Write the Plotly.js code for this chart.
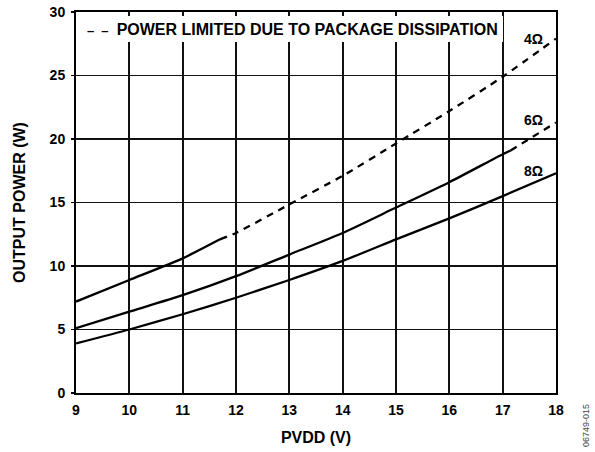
<!DOCTYPE html>
<html>
<head>
<meta charset="utf-8">
<script src="https://cdn.plot.ly/plotly-3.0.1.min.js"></script>
<style>html,body{margin:0;padding:0;background:#fff;}#chart{width:595px;height:452px;}</style>
</head>
<body>
<div id="chart"></div>
<script>
// PVDD (V) sample points
const pvdd = [9, 10, 11, 12, 13, 14, 15, 16, 17, 18];
// 4 ohm: solid part then dashed (package-limited) part
const x4Solid = [9, 10, 11, 11.7];
const y4Solid = [7.2, 8.9, 10.6, 12.1];
const x4Dash = [11.7, 12, 13, 14, 15, 16, 17, 18];
const y4Dash = [12.1, 12.6, 14.85, 17.1, 19.65, 22.2, 24.9, 27.9];
// 6 ohm
const x6Solid = [9, 10, 11, 12, 13, 14, 15, 16, 17, 17.15];
const y6Solid = [5.1, 6.4, 7.7, 9.2, 10.9, 12.6, 14.6, 16.6, 18.8, 19.1];
const x6Dash = [17.15, 18];
const y6Dash = [19.1, 21.3];
// 8 ohm
const y8 = [3.9, 5.0, 6.2, 7.5, 8.9, 10.4, 12.1, 13.75, 15.5, 17.3];

const xTicks = [9, 10, 11, 12, 13, 14, 15, 16, 17, 18];
const yTicks = [0, 5, 10, 15, 20, 25, 30];
const legendText = 'POWER LIMITED DUE TO PACKAGE DISSIPATION';
const curveLabels = [
  {text: '4Ω', x: 17.57, y: 27.9},
  {text: '6Ω', x: 17.57, y: 21.5},
  {text: '8Ω', x: 17.57, y: 17.45}
];

const FONT = 'Liberation Sans, Arial, sans-serif';
const solid = {color: '#000', width: 2.3, shape: 'spline', smoothing: 0.6};
const dashed = {color: '#000', width: 2.3, dash: '7px,6px', shape: 'spline', smoothing: 0.6};

const traces = [
  {x: x4Solid, y: y4Solid, mode: 'lines', line: solid},
  {x: x4Dash, y: y4Dash, mode: 'lines', line: dashed, name: legendText},
  {x: x6Solid, y: y6Solid, mode: 'lines', line: solid},
  {x: x6Dash, y: y6Dash, mode: 'lines', line: dashed},
  {x: pvdd, y: y8, mode: 'lines', line: solid}
];

const annotations = curveLabels.map(l => ({
  x: l.x, y: l.y, xref: 'x', yref: 'y', text: l.text, showarrow: false,
  font: {family: FONT, size: 14, color: '#000', weight: 'bold'}
}));
// legend-style key box (white background hides the grid behind it)
annotations.push({
  x: 0, xref: 'paper', xanchor: 'left', xshift: 2,
  y: 1, yref: 'paper', yanchor: 'top', yshift: -4,
  width: 425, height: 26, align: 'left', valign: 'middle',
  bgcolor: '#fff', borderpad: 0, borderwidth: 0, showarrow: false,
  text: '&nbsp;&nbsp;<span style="font-size:13px">–&nbsp;&nbsp;–&nbsp;</span>&nbsp;' + legendText,
  font: {family: FONT, size: 16, color: '#000', weight: 'bold'}
});
annotations.push({
  x: 1, xref: 'paper', xanchor: 'left', y: 0, yref: 'paper', yanchor: 'middle',
  xshift: 23, yshift: -33,
  text: '06749-015', textangle: -90, showarrow: false,
  font: {family: FONT, size: 9, color: '#444'}
});

const layout = {
  width: 595, height: 452,
  margin: {l: 76, r: 39, t: 12, b: 59},
  paper_bgcolor: '#fff', plot_bgcolor: '#fff',
  font: {family: FONT, color: '#000'},
  showlegend: false,
  xaxis: {
    range: [9, 18], tickvals: xTicks, ticktext: xTicks.map(String),
    showgrid: true, gridcolor: '#111', gridwidth: 1.8,
    showline: true, linecolor: '#000', linewidth: 2, mirror: true,
    zeroline: false, ticks: '', ticklabelstandoff: 3,
    tickfont: {family: FONT, size: 14, weight: 'bold'},
    title: {text: 'PVDD (V)', font: {family: FONT, size: 16, weight: 'bold'}, standoff: 15}
  },
  yaxis: {
    range: [0, 30], tickvals: yTicks, ticktext: yTicks.map(String),
    showgrid: true, gridcolor: '#111', gridwidth: 1.8,
    showline: true, linecolor: '#000', linewidth: 2, mirror: true,
    zeroline: false, ticks: 'outside', ticklen: 3, tickwidth: 1.2, tickcolor: '#000',
    ticklabelstandoff: 3,
    tickfont: {family: FONT, size: 14, weight: 'bold'},
    title: {text: 'OUTPUT POWER (W)', font: {family: FONT, size: 16, weight: 'bold'}, standoff: 20}
  },
  annotations: annotations
};

Plotly.newPlot('chart', traces, layout, {displayModeBar: false, staticPlot: true});
</script>
</body>
</html>
